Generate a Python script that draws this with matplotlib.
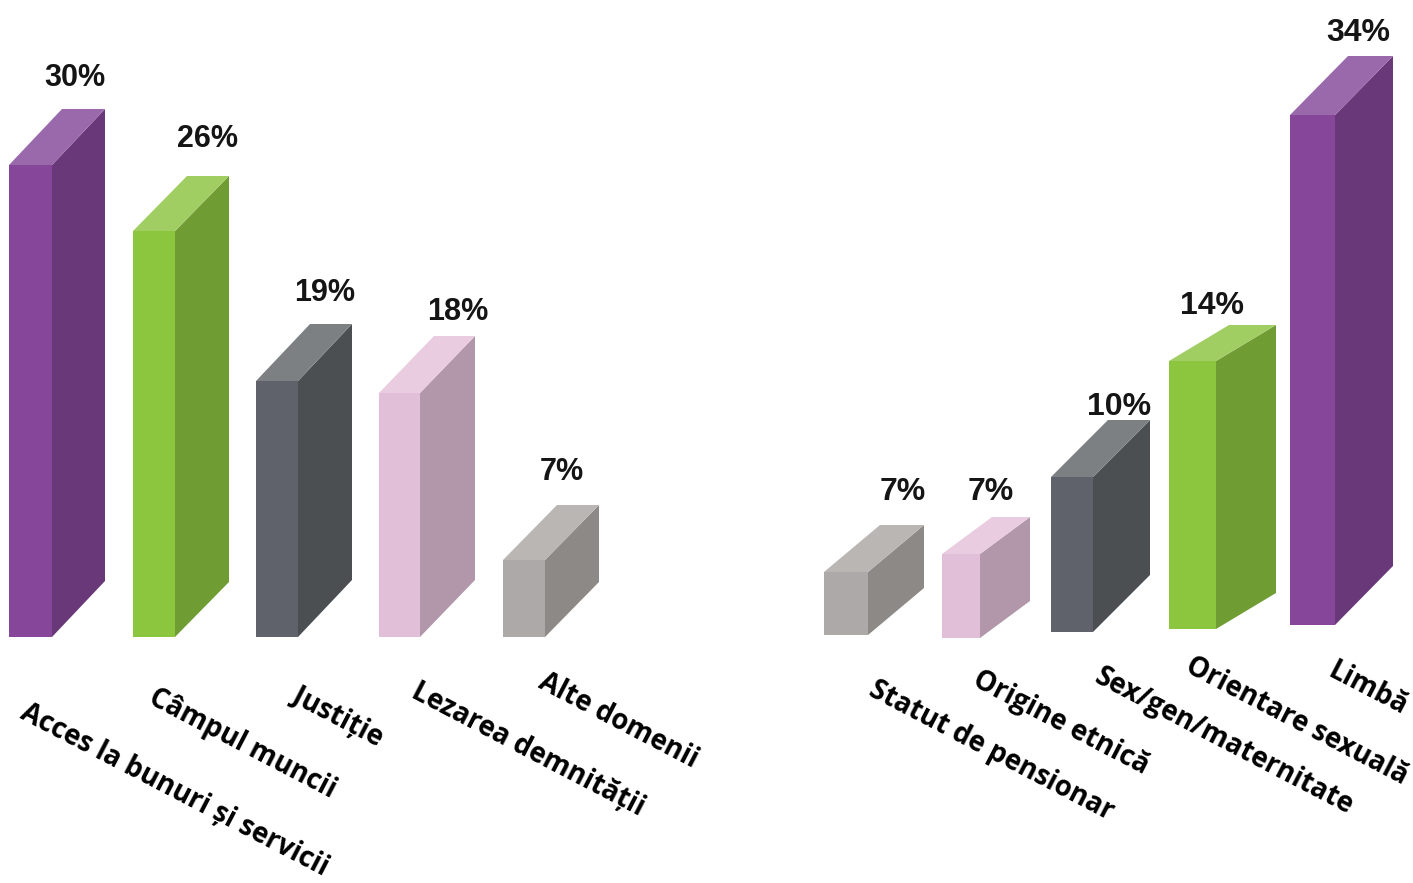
# %% imports
import matplotlib
matplotlib.use("Agg")
import matplotlib.pyplot as plt

# %% data
left_labels = ["Acces la bunuri și servicii", "Câmpul muncii", "Justiție", "Lezarea demnității", "Alte domenii"]
left_percent = [30, 26, 19, 18, 7]
left_heights = [472, 406, 256, 244, 77]   # drawn height of the front face

right_labels = ["Statut de pensionar", "Origine etnică", "Sex/gen/maternitate", "Orientare sexuală", "Limbă"]
right_percent = [7, 7, 10, 14, 34]
right_heights = [63, 84, 155, 268, 510]

# %% layout, in figure pixels
W, H = 1413, 883
left_x = [9, 133, 256, 379, 503]
left_w = [43, 42, 42, 41, 42]
left_base = [637, 637, 637, 637, 637]
left_dx = [53, 54, 54, 55, 54]
left_dy = [56, 55, 57, 57, 55]
left_text = [(29, 698), (157, 683), (301, 681), (420, 677), (547, 667)]
left_pct = [(75, 86), (208, 147), (325, 301), (458, 320), (562, 480)]

right_x = [824, 942, 1051, 1169, 1290]
right_w = [44, 38, 42, 47, 45]
right_base = [635, 638, 632, 629, 625]
right_dx = [56, 50, 57, 60, 58]
right_dy = [47, 37, 57, 36, 59]
right_text = [(877, 675), (981, 665), (1103, 662), (1194, 651), (1337, 656)]
right_pct = [(903, 500), (991, 500), (1119, 415), (1212, 314), (1358, 41)]

# front, side, top
purple = ("#86479A", "#693878", "#9A69AB")
green = ("#8CC63F", "#709D33", "#A0CE63")
dark = ("#5F626B", "#4C4F52", "#7C8082")
pink = ("#E2BFD9", "#B197A9", "#E9CCE0")
grey = ("#ADA9A8", "#8D8986", "#BAB6B4")
left_colors = [purple, green, dark, pink, grey]
right_colors = [grey, pink, dark, green, purple]


def draw_group(ax, labels, percent, heights, xs, ws, bases, dxs, dys, colors, text_pos, pct_pos, pct_font, rot):
    for i in range(len(labels)):
        bottom = H - bases[i]
        x0 = xs[i]
        x1 = xs[i] + ws[i]
        top = bottom + heights[i]
        front, side, lid = colors[i]

        ax.bar(x0, heights[i], ws[i], bottom=bottom, align="edge", color=front, zorder=3)
        # side and top faces
        ax.fill([x1, x1 + dxs[i], x1 + dxs[i], x1],
                [bottom, bottom + dys[i], top + dys[i], top], color=side, lw=0, zorder=2)
        ax.fill([x0, x0 + dxs[i], x1 + dxs[i], x1],
                [top, top + dys[i], top + dys[i], top], color=lid, lw=0, zorder=2)

        ax.text(pct_pos[i][0], H - pct_pos[i][1], f"{percent[i]}%", ha="center", va="baseline",
                fontsize=pct_font[1], family=pct_font[0], fontweight="bold", color="#151515", zorder=4)
        ax.text(text_pos[i][0], H - text_pos[i][1], labels[i], ha="left", va="top", rotation=rot,
                rotation_mode="anchor", fontsize=19.8, family="Open Sans", fontweight="bold", color="black")


# %% figure
fig = plt.figure(figsize=(W / 100, H / 100), dpi=100)
ax = fig.add_axes([0, 0, 1, 1])
ax.set_xlim(0, W)
ax.set_ylim(0, H)
ax.axis("off")

draw_group(ax, left_labels, left_percent, left_heights, left_x, left_w, left_base, left_dx, left_dy,
           left_colors, left_text, left_pct, ("Liberation Sans", 22), -27.5)
draw_group(ax, right_labels, right_percent, right_heights, right_x, right_w, right_base, right_dx, right_dy,
           right_colors, right_text, right_pct, ("Liberation Sans", 23), -27.5)

fig.savefig("out.png", dpi=100)
